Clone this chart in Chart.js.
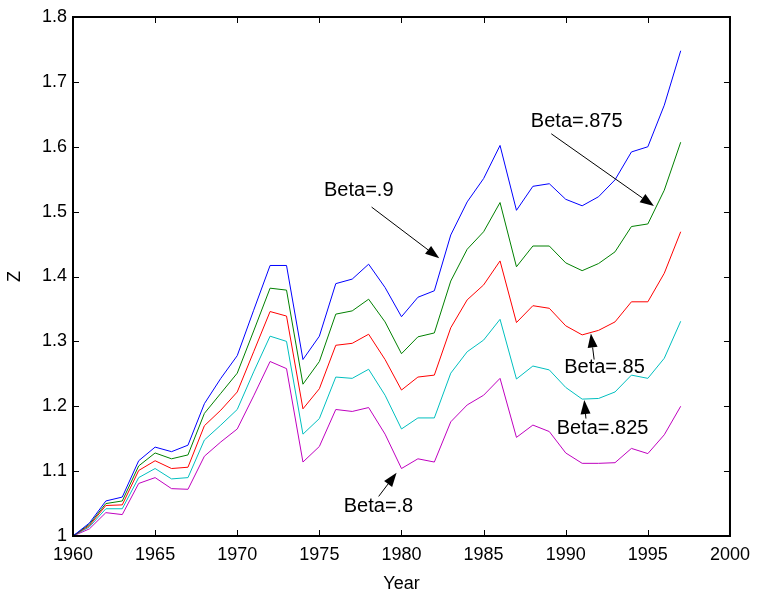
<!DOCTYPE html>
<html>
<head>
<meta charset="utf-8">
<title>Z by year</title>
<script src="https://cdn.jsdelivr.net/npm/chart.js"></script>
<style>
  html, body { margin: 0; padding: 0; background: #fff; }
  canvas { display: block; }
</style>
</head>
<body>
<canvas id="chart-z" width="758" height="595"></canvas>
<script>
// --- data ---
const years = [1960, 1961, 1962, 1963, 1964, 1965, 1966, 1967, 1968, 1969,
  1970, 1971, 1972, 1973, 1974, 1975, 1976, 1977, 1978, 1979,
  1980, 1981, 1982, 1983, 1984, 1985, 1986, 1987, 1988, 1989,
  1990, 1991, 1992, 1993, 1994, 1995, 1996, 1997];

const beta900 = [1.000, 1.020, 1.054, 1.060, 1.116, 1.137, 1.130, 1.140, 1.204, 1.243,
  1.278, 1.348, 1.417, 1.417, 1.272, 1.308, 1.389, 1.396, 1.419, 1.383,
  1.338, 1.368, 1.378, 1.464, 1.515, 1.551, 1.602, 1.502, 1.539, 1.543,
  1.519, 1.509, 1.523, 1.549, 1.592, 1.600, 1.664, 1.748];

const beta875 = [1.000, 1.018, 1.050, 1.054, 1.108, 1.128, 1.119, 1.125, 1.189, 1.220,
  1.251, 1.316, 1.382, 1.379, 1.234, 1.269, 1.342, 1.347, 1.365, 1.330,
  1.281, 1.307, 1.313, 1.393, 1.442, 1.469, 1.514, 1.415, 1.447, 1.447,
  1.421, 1.409, 1.420, 1.438, 1.477, 1.481, 1.533, 1.607];

const beta850 = [1.000, 1.016, 1.047, 1.048, 1.101, 1.116, 1.104, 1.106, 1.170, 1.194,
  1.222, 1.284, 1.346, 1.339, 1.196, 1.227, 1.294, 1.297, 1.311, 1.272,
  1.225, 1.245, 1.248, 1.321, 1.364, 1.387, 1.424, 1.329, 1.355, 1.351,
  1.324, 1.310, 1.317, 1.330, 1.361, 1.361, 1.405, 1.469];

const beta825 = [1.000, 1.014, 1.042, 1.042, 1.090, 1.104, 1.088, 1.090, 1.148, 1.171,
  1.195, 1.253, 1.308, 1.300, 1.157, 1.181, 1.245, 1.243, 1.257, 1.217,
  1.165, 1.182, 1.182, 1.251, 1.284, 1.302, 1.334, 1.242, 1.262, 1.256,
  1.229, 1.211, 1.212, 1.222, 1.248, 1.243, 1.274, 1.331];

const beta800 = [1.000, 1.011, 1.036, 1.033, 1.081, 1.090, 1.073, 1.072, 1.123, 1.145,
  1.165, 1.216, 1.269, 1.258, 1.114, 1.138, 1.195, 1.192, 1.198, 1.157,
  1.104, 1.119, 1.114, 1.176, 1.202, 1.217, 1.243, 1.152, 1.171, 1.161,
  1.128, 1.112, 1.112, 1.113, 1.135, 1.127, 1.156, 1.200];

const xTicks = [1960, 1965, 1970, 1975, 1980, 1985, 1990, 1995, 2000];
const yTicks = [1, 1.1, 1.2, 1.3, 1.4, 1.5, 1.6, 1.7, 1.8];

// annotations (text anchor and arrow ends, in data units)
const annoLabels = ["Beta=.9", "Beta=.875", "Beta=.85", "Beta=.825", "Beta=.8"];
const annoTextX = [1977.4, 1990.67, 1992.36, 1992.24, 1978.6];
const annoTextY = [1.532, 1.639, 1.260, 1.166, 1.045];
const arrowFromX = [1978.18, 1989.12, 1991.73, 1991.23, 1978.61];
const arrowFromY = [1.507, 1.620, 1.272, 1.181, 1.061];
const arrowToX = [1982.3, 1995.37, 1991.53, 1991.13, 1979.70];
const arrowToY = [1.428, 1.5085, 1.312, 1.2096, 1.0975];

const FONT = "'Liberation Sans', Arial, sans-serif";

function toPoints(values) {
    return years.map((yr, i) => ({ x: yr, y: values[i] }));
}

function lineSet(label, values, color) {
    return {
        label: label,
        data: toPoints(values),
        borderColor: color,
        backgroundColor: color,
        borderWidth: 1,
        pointRadius: 0,
        tension: 0,
        fill: false
    };
}

// box round the plot, inward ticks on all sides, arrows and labels
const matlabAxes = {
    id: "matlabAxes",
    afterDatasetsDraw(chart) {
        const ctx = chart.ctx;
        const area = chart.chartArea;
        const xs = chart.scales.x;
        const ys = chart.scales.y;
        const tick = 6;

        ctx.save();
        ctx.strokeStyle = "#000";
        ctx.lineWidth = 1;
        ctx.beginPath();
        xTicks.forEach(v => {
            const px = Math.round(xs.getPixelForValue(v)) + 0.5;
            ctx.moveTo(px, area.bottom);
            ctx.lineTo(px, area.bottom - tick);
            ctx.moveTo(px, area.top);
            ctx.lineTo(px, area.top + tick);
        });
        yTicks.forEach(v => {
            const py = Math.round(ys.getPixelForValue(v)) + 0.5;
            ctx.moveTo(area.left, py);
            ctx.lineTo(area.left + tick, py);
            ctx.moveTo(area.right, py);
            ctx.lineTo(area.right - tick, py);
        });
        ctx.stroke();

        ctx.lineWidth = 2;
        ctx.strokeRect(area.left, area.top, area.right - area.left, area.bottom - area.top);

        // arrows
        ctx.lineWidth = 1;
        ctx.fillStyle = "#000";
        annoLabels.forEach((txt, i) => {
            const x0 = xs.getPixelForValue(arrowFromX[i]);
            const y0 = ys.getPixelForValue(arrowFromY[i]);
            const x1 = xs.getPixelForValue(arrowToX[i]);
            const y1 = ys.getPixelForValue(arrowToY[i]);
            const ang = Math.atan2(y1 - y0, x1 - x0);
            const headLen = 14;
            const headHalf = 5;
            const bx = x1 - headLen * Math.cos(ang);
            const by = y1 - headLen * Math.sin(ang);
            ctx.beginPath();
            ctx.moveTo(x0, y0);
            ctx.lineTo(bx, by);
            ctx.stroke();
            ctx.beginPath();
            ctx.moveTo(x1, y1);
            ctx.lineTo(bx + headHalf * Math.sin(ang), by - headHalf * Math.cos(ang));
            ctx.lineTo(bx - headHalf * Math.sin(ang), by + headHalf * Math.cos(ang));
            ctx.closePath();
            ctx.fill();

            ctx.font = "20px " + FONT;
            ctx.textAlign = "center";
            ctx.textBaseline = "middle";
            ctx.fillText(txt, xs.getPixelForValue(annoTextX[i]), ys.getPixelForValue(annoTextY[i]));
        });
        ctx.restore();
    }
};

const ctx = document.getElementById("chart-z").getContext("2d");
new Chart(ctx, {
    type: "line",
    data: {
        datasets: [
            lineSet("Beta=.9", beta900, "#0000ff"),
            lineSet("Beta=.875", beta875, "#008000"),
            lineSet("Beta=.85", beta850, "#ff0000"),
            lineSet("Beta=.825", beta825, "#00bfbf"),
            lineSet("Beta=.8", beta800, "#bf00bf")
        ]
    },
    options: {
        responsive: false,
        animation: false,
        devicePixelRatio: 1,
        layout: { padding: { top: 17, right: 25, left: 4, bottom: 0 } },
        plugins: {
            legend: { display: false },
            tooltip: { enabled: false }
        },
        scales: {
            x: {
                type: "linear",
                min: 1960,
                max: 2000,
                afterBuildTicks: (scale) => { scale.ticks = xTicks.map(v => ({ value: v })); },
                afterFit: (scale) => { scale.height = 59; },
                grid: { display: false, drawTicks: false },
                border: { display: false },
                ticks: {
                    color: "#000",
                    font: { family: FONT, size: 18 },
                    padding: 8,
                    maxRotation: 0,
                    autoSkip: false,
                    callback: (v) => String(v)
                },
                title: {
                    display: true,
                    text: "Year",
                    color: "#000",
                    font: { family: FONT, size: 18 },
                    padding: { top: 2, bottom: 0 }
                }
            },
            y: {
                min: 1,
                max: 1.8,
                afterBuildTicks: (scale) => { scale.ticks = yTicks.map(v => ({ value: v })); },
                afterFit: (scale) => { scale.width = 69; },
                grid: { display: false, drawTicks: false },
                border: { display: false },
                ticks: {
                    color: "#000",
                    font: { family: FONT, size: 18 },
                    padding: 6,
                    callback: (v) => String(Number(v.toFixed(1)))
                },
                title: {
                    display: true,
                    text: "Z",
                    color: "#000",
                    font: { family: FONT, size: 18 },
                    padding: { top: 0, bottom: 0 }
                }
            }
        }
    },
    plugins: [matlabAxes]
});
</script>
</body>
</html>
